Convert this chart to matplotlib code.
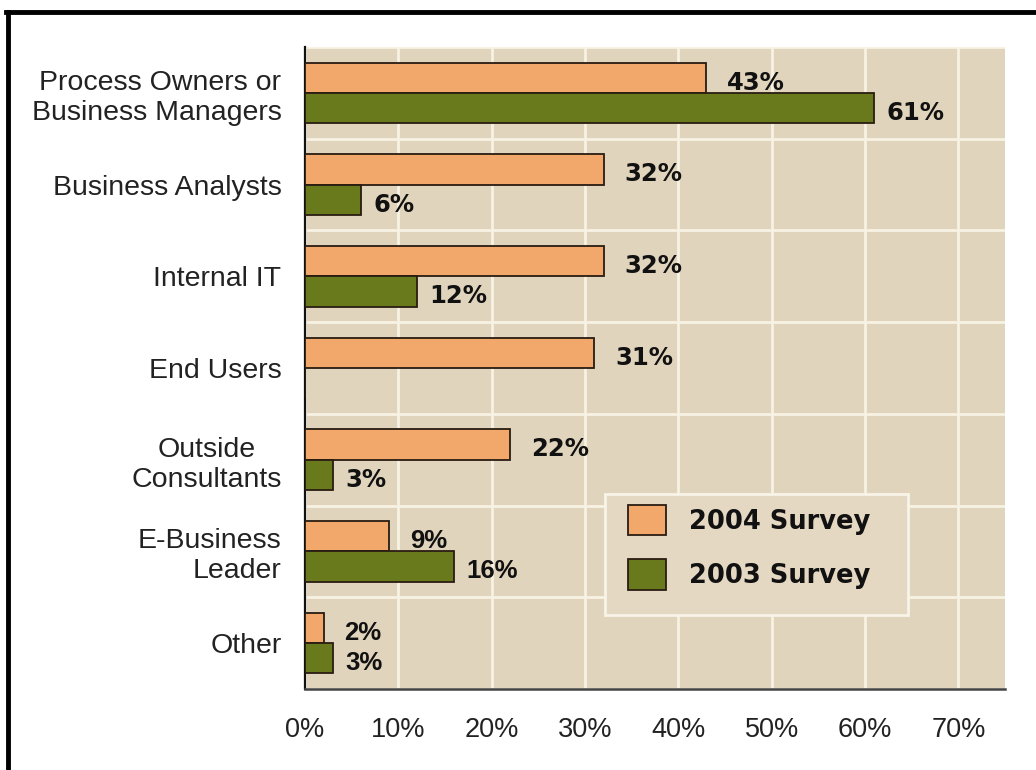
import matplotlib
matplotlib.use("Agg")
import matplotlib.pyplot as plt
from matplotlib.lines import Line2D
from matplotlib.patches import Rectangle
from matplotlib.ticker import FixedLocator
from matplotlib import font_manager as fm
import numpy as np

# ---- data ----
categories = ["Process Owners or\nBusiness Managers", "Business Analysts", "Internal IT",
              "End Users", "Outside\nConsultants", "E-Business\nLeader", "Other"]
survey_2004 = [43, 32, 32, 31, 22, 9, 2]
survey_2003 = [61, 6, 12, 0, 3, 16, 3]
series_names = ["2004 Survey", "2003 Survey"]
x_ticks = [0, 10, 20, 30, 40, 50, 60, 70]
x_tick_labels = ["0%", "10%", "20%", "30%", "40%", "50%", "60%", "70%"]

# ---- style ----
c_orange = "#F2A86A"
c_green = "#687A1C"
c_edge = "#2A1C12"
c_bg = "#E1D4BD"
c_grid = "#F7F2E4"
arial_label_cats = {"E-Business\nLeader", "Other"}

arial_bold_file = None
for f in fm.fontManager.ttflist:
    fn = f.fname.lower()
    if f.name == "Liberation Sans" and f.weight in (700, "bold") and f.style == "normal" \
            and "narrow" not in fn:
        arial_bold_file = f.fname
        break
if arial_bold_file:
    arial_bold = fm.FontProperties(fname=arial_bold_file, size=18.5)
else:
    arial_bold = fm.FontProperties(family="DejaVu Sans", weight="bold", size=17)

W, H = 1036, 770
fig = plt.figure(figsize=(W/100, H/100), dpi=100)
fig.patch.set_facecolor("white")
AX_L, AX_R, AX_T, AX_B = 305, 1005, 47, 689
ax = fig.add_axes([AX_L/W, 1-AX_B/H, (AX_R-AX_L)/W, (AX_B-AX_T)/H])
ax.set_facecolor(c_bg)

def px2ax(px, py):
    return ((px - AX_L) / (AX_R - AX_L), (AX_B - py) / (AX_B - AX_T))

y = np.arange(len(categories))
h = 0.33
bars04 = ax.barh(y - h/2, survey_2004, height=h, color=c_orange, edgecolor=c_edge,
                 linewidth=1.3, zorder=3, label=series_names[0])
bars03 = ax.barh(y + h/2, survey_2003, height=h, color=c_green, edgecolor=c_edge,
                 linewidth=1.3, zorder=3, label=series_names[1])

ax.set_xlim(0, 75)
ax.set_ylim(len(categories) - 0.5, -0.5)

ax.xaxis.set_major_locator(FixedLocator(x_ticks))
ax.set_xticklabels(x_tick_labels)
ax.yaxis.set_major_locator(FixedLocator(list(y)))
ax.set_yticklabels(categories)
ax.yaxis.set_minor_locator(FixedLocator(list(np.arange(-0.5, len(categories), 1.0))))
ax.grid(axis="x", which="major", color=c_grid, linewidth=2, zorder=1)
ax.grid(axis="y", which="minor", color=c_grid, linewidth=2, zorder=1)
ax.set_axisbelow(True)

ax.tick_params(axis="x", length=0, pad=20, labelsize=19.5, labelcolor="#222222")
ax.tick_params(axis="y", which="both", length=0, pad=17, labelsize=20.5, labelcolor="#222222")
for lab in ax.get_xticklabels() + ax.get_yticklabels():
    lab.set_fontfamily("Liberation Sans")
for lab in ax.get_yticklabels():
    if lab.get_text().startswith("Outside"):
        lab.set_multialignment("center")

for side in ["top", "right"]:
    ax.spines[side].set_visible(False)
ax.spines["left"].set_color("#111111")
ax.spines["left"].set_linewidth(1.6)
ax.spines["bottom"].set_color("#444444")
ax.spines["bottom"].set_linewidth(1.8)

# value labels
def add_labels(bars, vals, dx):
    for cat, b, v in zip(categories, bars, vals):
        if v == 0:
            continue
        if cat in arial_label_cats:
            kw = dict(fontproperties=arial_bold)
        else:
            kw = dict(fontsize=17.5, fontfamily="DejaVu Sans", fontweight="bold")
        ax.annotate(f"{v}%", xy=(b.get_width(), b.get_y() + b.get_height()/2),
                    xytext=(dx, -3.5), textcoords="offset points",
                    ha="left", va="center", color="#111111", zorder=5, **kw)

add_labels(bars04, survey_2004, 15)
add_labels(bars03, survey_2003, 9)

# legend box
x0, y0 = px2ax(605, 615)
x1, y1 = px2ax(908, 494)
ax.add_patch(Rectangle((x0, y0), x1 - x0, y1 - y0, transform=ax.transAxes,
                       facecolor="#E4D8C3", edgecolor="#F8F4E8", linewidth=2, zorder=6))
lx, ly = px2ax(628, 505)
fs_leg = 18.5
leg = ax.legend(loc="upper left", bbox_to_anchor=(lx, ly), borderaxespad=0, borderpad=0,
                frameon=False, handlelength=1.48, handleheight=1.44, handletextpad=0.9,
                labelspacing=0.93,
                prop={"family": "DejaVu Sans", "weight": "bold", "size": fs_leg})
leg.set_zorder(7)
for t in leg.get_texts():
    t.set_color("#111111")

# figure frame lines (left and top)
fig.add_artist(Line2D([8/W, 8/W], [0, 1-12/H], color="black", linewidth=3.5,
                      transform=fig.transFigure))
fig.add_artist(Line2D([6/W, 1], [1-12/H, 1-12/H], color="black", linewidth=3.5,
                      transform=fig.transFigure))

fig.savefig("out.png", dpi=100, facecolor="white")
